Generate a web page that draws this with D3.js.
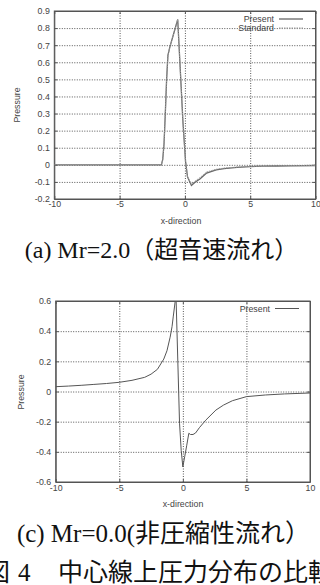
<!DOCTYPE html>
<html>
<head>
<meta charset="utf-8">
<script src="https://cdn.jsdelivr.net/npm/d3@7"></script>
<style>
  html, body { margin: 0; padding: 0; background: #fff; }
  svg { display: block; }
  .tick text { font-family: "Liberation Sans", Arial, sans-serif; font-size: 8.8px; fill: #444; }
  .lbl { font-family: "Liberation Sans", Arial, sans-serif; font-size: 8.8px; fill: #444; }
  .cap { font-family: "Liberation Serif", "Noto Sans CJK JP", serif; fill: #111; }
</style>
</head>
<body>
<div id="chart"></div>
<script>
// (a) Mr=2.0 — supersonic
const xA = [-10, -1.8, -1.7, -1.6, -1.5, -1.4, -1.3, -1.15, -0.85, -0.55, -0.35, -0.15, 0.05, 0.2, 0.5, 0.8, 1.15, 1.66, 2.4, 3, 4, 5, 6, 7, 8, 10];
const presentA = [0, 0, 0.03, 0.12, 0.3, 0.5, 0.64, 0.69, 0.77, 0.85, 0.55, 0.25, 0.02, -0.07, -0.12, -0.1, -0.083, -0.048, -0.03, -0.022, -0.015, -0.01, -0.008, -0.007, -0.006, -0.004];
const standardA = [0, 0, 0.03, 0.12, 0.3, 0.5, 0.64, 0.69, 0.77, 0.85, 0.55, 0.25, 0.02, -0.07, -0.116, -0.094, -0.075, -0.042, -0.026, -0.019, -0.013, -0.009, -0.007, -0.006, -0.005, -0.004];
const yTicksA = [-0.2, -0.1, 0, 0.1, 0.2, 0.3, 0.4, 0.5, 0.6, 0.7, 0.8, 0.9];

// (c) Mr=0.0 — incompressible
const xC = [-10, -9, -8, -7, -6, -5, -4, -3, -2.5, -2, -1.5, -1.25, -1, -0.85, -0.75, -0.6, -0.56, -0.26, -0.13, 0, 0.15, 0.3, 0.47, 0.6, 0.8, 1.0, 1.3, 1.8, 2.6, 3.2, 3.9, 5, 6.5, 8, 10];
const presentC = [0.032, 0.036, 0.041, 0.047, 0.053, 0.061, 0.074, 0.094, 0.115, 0.147, 0.215, 0.27, 0.36, 0.43, 0.5, 0.6, 0.7, -0.21, -0.39, -0.5, -0.43, -0.36, -0.277, -0.285, -0.285, -0.275, -0.24, -0.19, -0.123, -0.09, -0.061, -0.034, -0.023, -0.016, -0.01];
const yTicksC = [-0.6, -0.4, -0.2, 0, 0.2, 0.4, 0.6];

const xTicks = [-10, -5, 0, 5, 10];

// gnuplot prints plain hyphen minus
const fmt = d => String(+(+d).toFixed(1));

const svg = d3.select('#chart').append('svg')
  .attr('width', 320).attr('height', 585);
svg.append('rect').attr('width', 320).attr('height', 585).attr('fill', '#fff');

function panel(opt) {
  const { left, right, top, bottom, yDomain, yTicks, series, id } = opt;
  const w = right - left, h = bottom - top;
  const x = d3.scaleLinear().domain([-10, 10]).range([0, w]);
  const y = d3.scaleLinear().domain(yDomain).range([h, 0]);
  const g = svg.append('g').attr('transform', `translate(${left},${top})`);

  svg.append('clipPath').attr('id', id).append('rect').attr('width', w).attr('height', h);

  // grid
  g.append('g').attr('transform', `translate(0,${h})`)
    .call(d3.axisBottom(x).tickValues(xTicks.slice(1, -1)).tickSize(-h).tickFormat(''))
    .call(s => s.select('.domain').remove())
    .selectAll('line').attr('stroke', '#bbb').attr('stroke-dasharray', '1,1.5');
  g.append('g')
    .call(d3.axisLeft(y).tickValues(yTicks.slice(1, -1)).tickSize(-w).tickFormat(''))
    .call(s => s.select('.domain').remove())
    .selectAll('line').attr('stroke', '#bbb').attr('stroke-dasharray', '1,1.5');

  // axes with inward ticks (gnuplot style, mirrored)
  g.append('g').attr('transform', `translate(0,${h})`)
    .call(d3.axisBottom(x).tickValues(xTicks).tickSizeInner(-3).tickSizeOuter(0).tickPadding(opt.xPad).tickFormat(fmt));
  g.append('g').call(d3.axisTop(x).tickValues(xTicks).tickSizeInner(-3).tickSizeOuter(0).tickFormat(''));
  g.append('g')
    .call(d3.axisLeft(y).tickValues(yTicks).tickSizeInner(-3).tickSizeOuter(0).tickPadding(4.5).tickFormat(fmt));
  g.append('g').attr('transform', `translate(${w},0)`)
    .call(d3.axisRight(y).tickValues(yTicks).tickSizeInner(-3).tickSizeOuter(0).tickFormat(''));
  g.selectAll('.domain, .tick line').attr('stroke', '#555');

  g.append('rect').attr('width', w).attr('height', h)
    .attr('fill', 'none').attr('stroke', '#555').attr('stroke-width', 1);

  const line = d3.line().x(d => x(d[0])).y(d => y(d[1]));
  series.forEach(s => {
    g.append('path')
      .datum(s.xs.map((v, i) => [v, s.ys[i]]))
      .attr('clip-path', `url(#${id})`)
      .attr('fill', 'none')
      .attr('stroke', s.color)
      .attr('stroke-width', s.width)
      .attr('stroke-dasharray', s.dash)
      .attr('d', line);
  });

  // legend
  series.forEach((s, i) => {
    const ly = opt.legendY + i * 9;
    g.append('text').attr('class', 'lbl')
      .attr('x', opt.legendX - left).attr('y', ly - top).attr('dy', '0.35em')
      .attr('text-anchor', 'end').text(s.name);
    g.append('line')
      .attr('x1', opt.legendX - left + 5).attr('x2', opt.legendX - left + 29)
      .attr('y1', ly - top).attr('y2', ly - top)
      .attr('stroke', s.color).attr('stroke-width', s.width)
      .attr('stroke-dasharray', s.dash);
  });

  // axis titles
  svg.append('text').attr('class', 'lbl')
    .attr('x', opt.xTitle[0]).attr('y', opt.xTitle[1]).attr('dy', '0.35em')
    .attr('text-anchor', 'middle').text('x-direction');
  svg.append('text').attr('class', 'lbl')
    .attr('transform', `translate(${opt.yTitle[0]},${opt.yTitle[1]}) rotate(-90)`)
    .attr('dy', '0.35em').attr('text-anchor', 'middle').text('Pressure');
}

panel({
  id: 'clipA', left: 54.3, right: 315.5, top: 11, bottom: 199,
  yDomain: [-0.2, 0.9], yTicks: yTicksA, xPad: 2,
  series: [
    { name: 'Present', xs: xA, ys: presentA, color: '#666', width: 1.3, dash: null },
    { name: 'Standard', xs: xA, ys: standardA, color: '#999', width: 1, dash: '1.5,1' }
  ],
  legendX: 274, legendY: 19,
  xTitle: [181, 221], yTitle: [17, 105]
});

panel({
  id: 'clipC', left: 55.7, right: 310, top: 301, bottom: 482,
  yDomain: [-0.6, 0.6], yTicks: yTicksC, xPad: 2.5,
  series: [
    { name: 'Present', xs: xC, ys: presentC, color: '#555', width: 1, dash: null }
  ],
  legendX: 270, legendY: 308.5,
  xTitle: [183, 504], yTitle: [20.7, 392]
});

// captions
svg.append('text').attr('class', 'cap')
  .attr('x', 161.5).attr('y', 258).attr('text-anchor', 'middle')
  .attr('font-size', 24).text('(a) Mr=2.0（超音速流れ）');
svg.append('text').attr('class', 'cap')
  .attr('x', 163.5).attr('y', 541.5).attr('text-anchor', 'middle')
  .attr('font-size', 25).text('(c) Mr=0.0(非圧縮性流れ）');
const fig = svg.append('text').attr('class', 'cap').attr('y', 581).attr('font-size', 25);
fig.append('tspan').attr('x', -15).text('図');
fig.append('tspan').attr('x', 18).text('4');
fig.append('tspan').attr('x', 58).text('中心線上圧力分布の比較');
</script>
</body>
</html>
